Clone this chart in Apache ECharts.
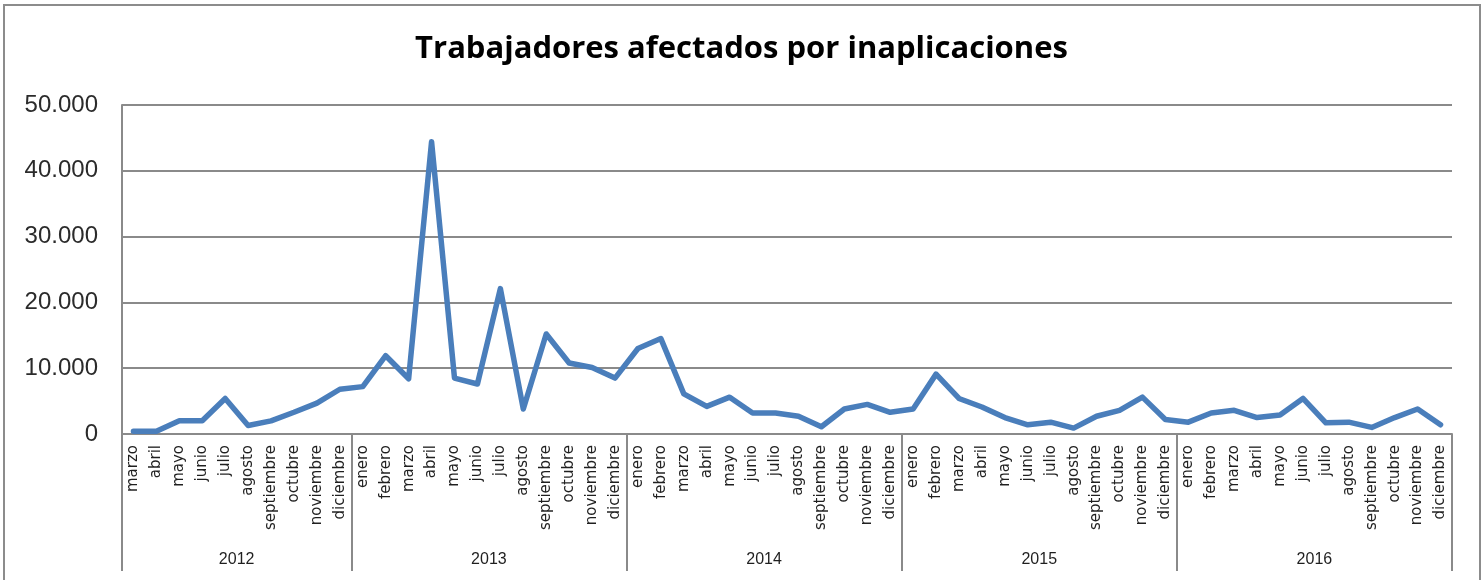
<!DOCTYPE html>
<html>
<head>
<meta charset="utf-8">
<script src="https://cdn.jsdelivr.net/npm/echarts@6/dist/echarts.min.js"></script>
<style>
  html, body { margin: 0; padding: 0; background: #ffffff; }
  #chart { position: absolute; left: 0; top: 0; width: 1483px; height: 580px; }
  #frame { position: absolute; left: 3px; top: 4px; width: 1478px; height: 620px; border: 2px solid #8c8c8c; box-sizing: border-box; pointer-events: none; }
</style>
</head>
<body>
<div id="chart"></div>
<div id="frame"></div>
<script>
const titleText = 'Trabajadores afectados por inaplicaciones';
const monthNames = ['enero','febrero','marzo','abril','mayo','junio','julio','agosto','septiembre','octubre','noviembre','diciembre'];
const years = ['2012', '2013', '2014', '2015', '2016'];
const firstMonthIndex = [2, 0, 0, 0, 0]; // 2012 starts in marzo
const values2012 = [400, 400, 2000, 2000, 5400, 1300, 2000, 3300, 4700, 6800];
const values2013 = [7200, 11900, 8400, 44400, 8500, 7600, 22100, 3800, 15200, 10800, 10100, 8500];
const values2014 = [13000, 14500, 6100, 4200, 5600, 3200, 3200, 2700, 1100, 3800, 4500, 3300];
const values2015 = [3800, 9100, 5400, 4100, 2500, 1400, 1800, 900, 2700, 3600, 5600, 2200];
const values2016 = [1800, 3200, 3600, 2500, 2900, 5400, 1700, 1800, 1000, 2500, 3800, 1400];
const yTicks = { min: 0, max: 50000, interval: 10000 };

const valuesByYear = [values2012, values2013, values2014, values2015, values2016];
const categories = [];
const values = [];
const yearCounts = [];
valuesByYear.forEach((arr, yi) => {
  arr.forEach((v, k) => {
    categories.push(monthNames[firstMonthIndex[yi] + k]);
    values.push(v);
  });
  yearCounts.push(arr.length);
});
const n = categories.length;

// Half-month resolution axis for the year level (boundaryGap false, 2n+1 points)
const yearAxisData = new Array(2 * n + 1).fill('');
const boundaries = new Set([0]);
let acc = 0;
yearCounts.forEach((c, yi) => {
  yearAxisData[2 * acc + c] = years[yi];
  acc += c;
  boundaries.add(2 * acc);
});

const fmt = v => String(v).replace(/\B(?=(\d{3})+(?!\d))/g, '.');
const gray = '#8a8a8a';

const chart = echarts.init(document.getElementById('chart'), null, { renderer: 'canvas' });
chart.setOption({
  backgroundColor: '#ffffff',
  animation: false,
  title: {
    text: titleText,
    left: 'center',
    top: 29,
    textStyle: { fontFamily: 'Open Sans', fontWeight: 'bold', fontSize: 31, color: '#000000' }
  },
  grid: { left: 122, right: 31, top: 105, bottom: 146, containLabel: false },
  xAxis: [
    {
      type: 'category',
      data: categories,
      boundaryGap: true,
      position: 'bottom',
      axisLine: { show: true, lineStyle: { color: gray, width: 2 } },
      axisTick: { show: false },
      axisLabel: {
        interval: 0,
        rotate: 90,
        margin: 11,
        fontFamily: 'DejaVu Sans',
        fontSize: 15,
        color: '#1f1f1f'
      },
      splitLine: { show: false }
    },
    {
      type: 'category',
      data: yearAxisData,
      boundaryGap: false,
      position: 'bottom',
      axisLine: { show: false },
      axisTick: {
        show: true,
        interval: (i) => boundaries.has(i),
        length: 137,
        lineStyle: { color: gray, width: 2 }
      },
      axisLabel: {
        interval: 0,
        margin: 118,
        fontFamily: 'Liberation Sans',
        fontSize: 16,
        color: '#1f1f1f'
      },
      splitLine: { show: false }
    }
  ],
  yAxis: {
    type: 'value',
    min: yTicks.min,
    max: yTicks.max,
    interval: yTicks.interval,
    axisLine: { show: true, lineStyle: { color: gray, width: 2 } },
    axisTick: { show: false },
    axisLabel: {
      formatter: fmt,
      margin: 24,
      fontFamily: 'Liberation Sans',
      fontSize: 24,
      color: '#2b2b2b'
    },
    splitLine: { show: true, lineStyle: { color: gray, width: 2 } }
  },
  series: [{
    type: 'line',
    data: values,
    xAxisIndex: 0,
    showSymbol: false,
    smooth: false,
    lineStyle: { color: '#4a7ebb', width: 5.5, join: 'round', cap: 'round' },
    itemStyle: { color: '#4a7ebb' }
  }]
});
</script>
</body>
</html>
